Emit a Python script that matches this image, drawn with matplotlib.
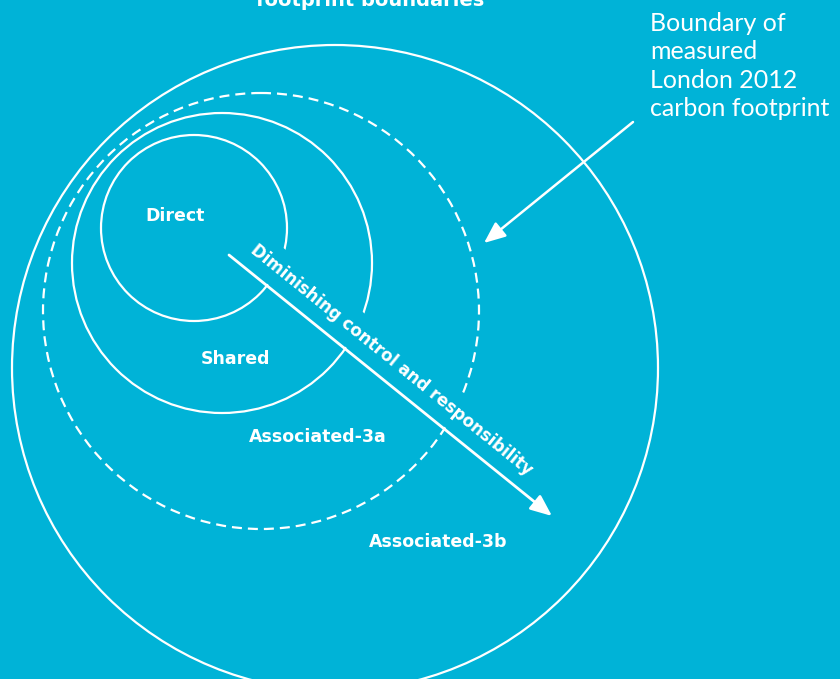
import matplotlib.pyplot as plt
from matplotlib.patches import Circle

# circle boundaries (pixel coords, y down)
ring_names = ["Direct", "Shared", "Associated-3a", "Associated-3b"]
ring_cx = [194, 222, 261, 335]
ring_cy = [228, 263, 311, 368]
ring_r = [93, 150, 218, 323]
ring_dashed = [False, False, True, False]

label_x = [175, 235, 318, 438]
label_y = [216, 359, 437, 542]

bg = "#00B3D7"
plt.rcParams["font.family"] = ["Lato", "DejaVu Sans"]

fig = plt.figure(figsize=(8.4, 6.79), dpi=100, facecolor=bg)
ax = fig.add_axes([0, 0, 1, 1])
ax.set_facecolor(bg)
ax.set_xlim(0, 840)
ax.set_ylim(679, 0)
ax.set_aspect("equal")
ax.axis("off")

for cx, cy, r, d in zip(ring_cx, ring_cy, ring_r, ring_dashed):
    ax.add_patch(Circle((cx, cy), r, fill=False, ec="white", lw=1.6,
                        ls=(0, (4.5, 2.7)) if d else "-", zorder=1))

for name, x, y in zip(ring_names, label_x, label_y):
    ax.text(x, y, name, color="white", fontsize=12.5, fontweight="bold",
            family="DejaVu Sans", ha="center", va="center", zorder=2)

# main diagonal arrow, label masks the rings between it and the line
ax.text(392, 360, "Diminishing control and responsibility", color="white",
        fontsize=12, fontweight="bold", family="DejaVu Sans",
        rotation=-38.9, rotation_mode="anchor", ha="center", va="center",
        bbox=dict(boxstyle="square,pad=0.6", fc=bg, ec="none"), zorder=2)
ax.annotate("", xy=(552, 516), xytext=(229, 255), zorder=3,
            arrowprops=dict(arrowstyle="-|>,head_length=1.3,head_width=0.55",
                            color="white", lw=2, shrinkA=0, shrinkB=0))

# pointer to dashed boundary
ax.annotate("", xy=(484, 243), xytext=(633, 122), zorder=3,
            arrowprops=dict(arrowstyle="-|>,head_length=1.3,head_width=0.55",
                            color="white", lw=1.8, shrinkA=0, shrinkB=0))
ax.text(650, 12, "Boundary of\nmeasured\nLondon 2012\ncarbon footprint",
        color="white", fontsize=18, ha="left", va="top", linespacing=1.28)

ax.text(370, 6, "footprint boundaries", color="white", fontsize=14,
        fontweight="bold", family="DejaVu Sans", ha="center", va="baseline")

fig.savefig("out.png", dpi=100, facecolor=bg)
